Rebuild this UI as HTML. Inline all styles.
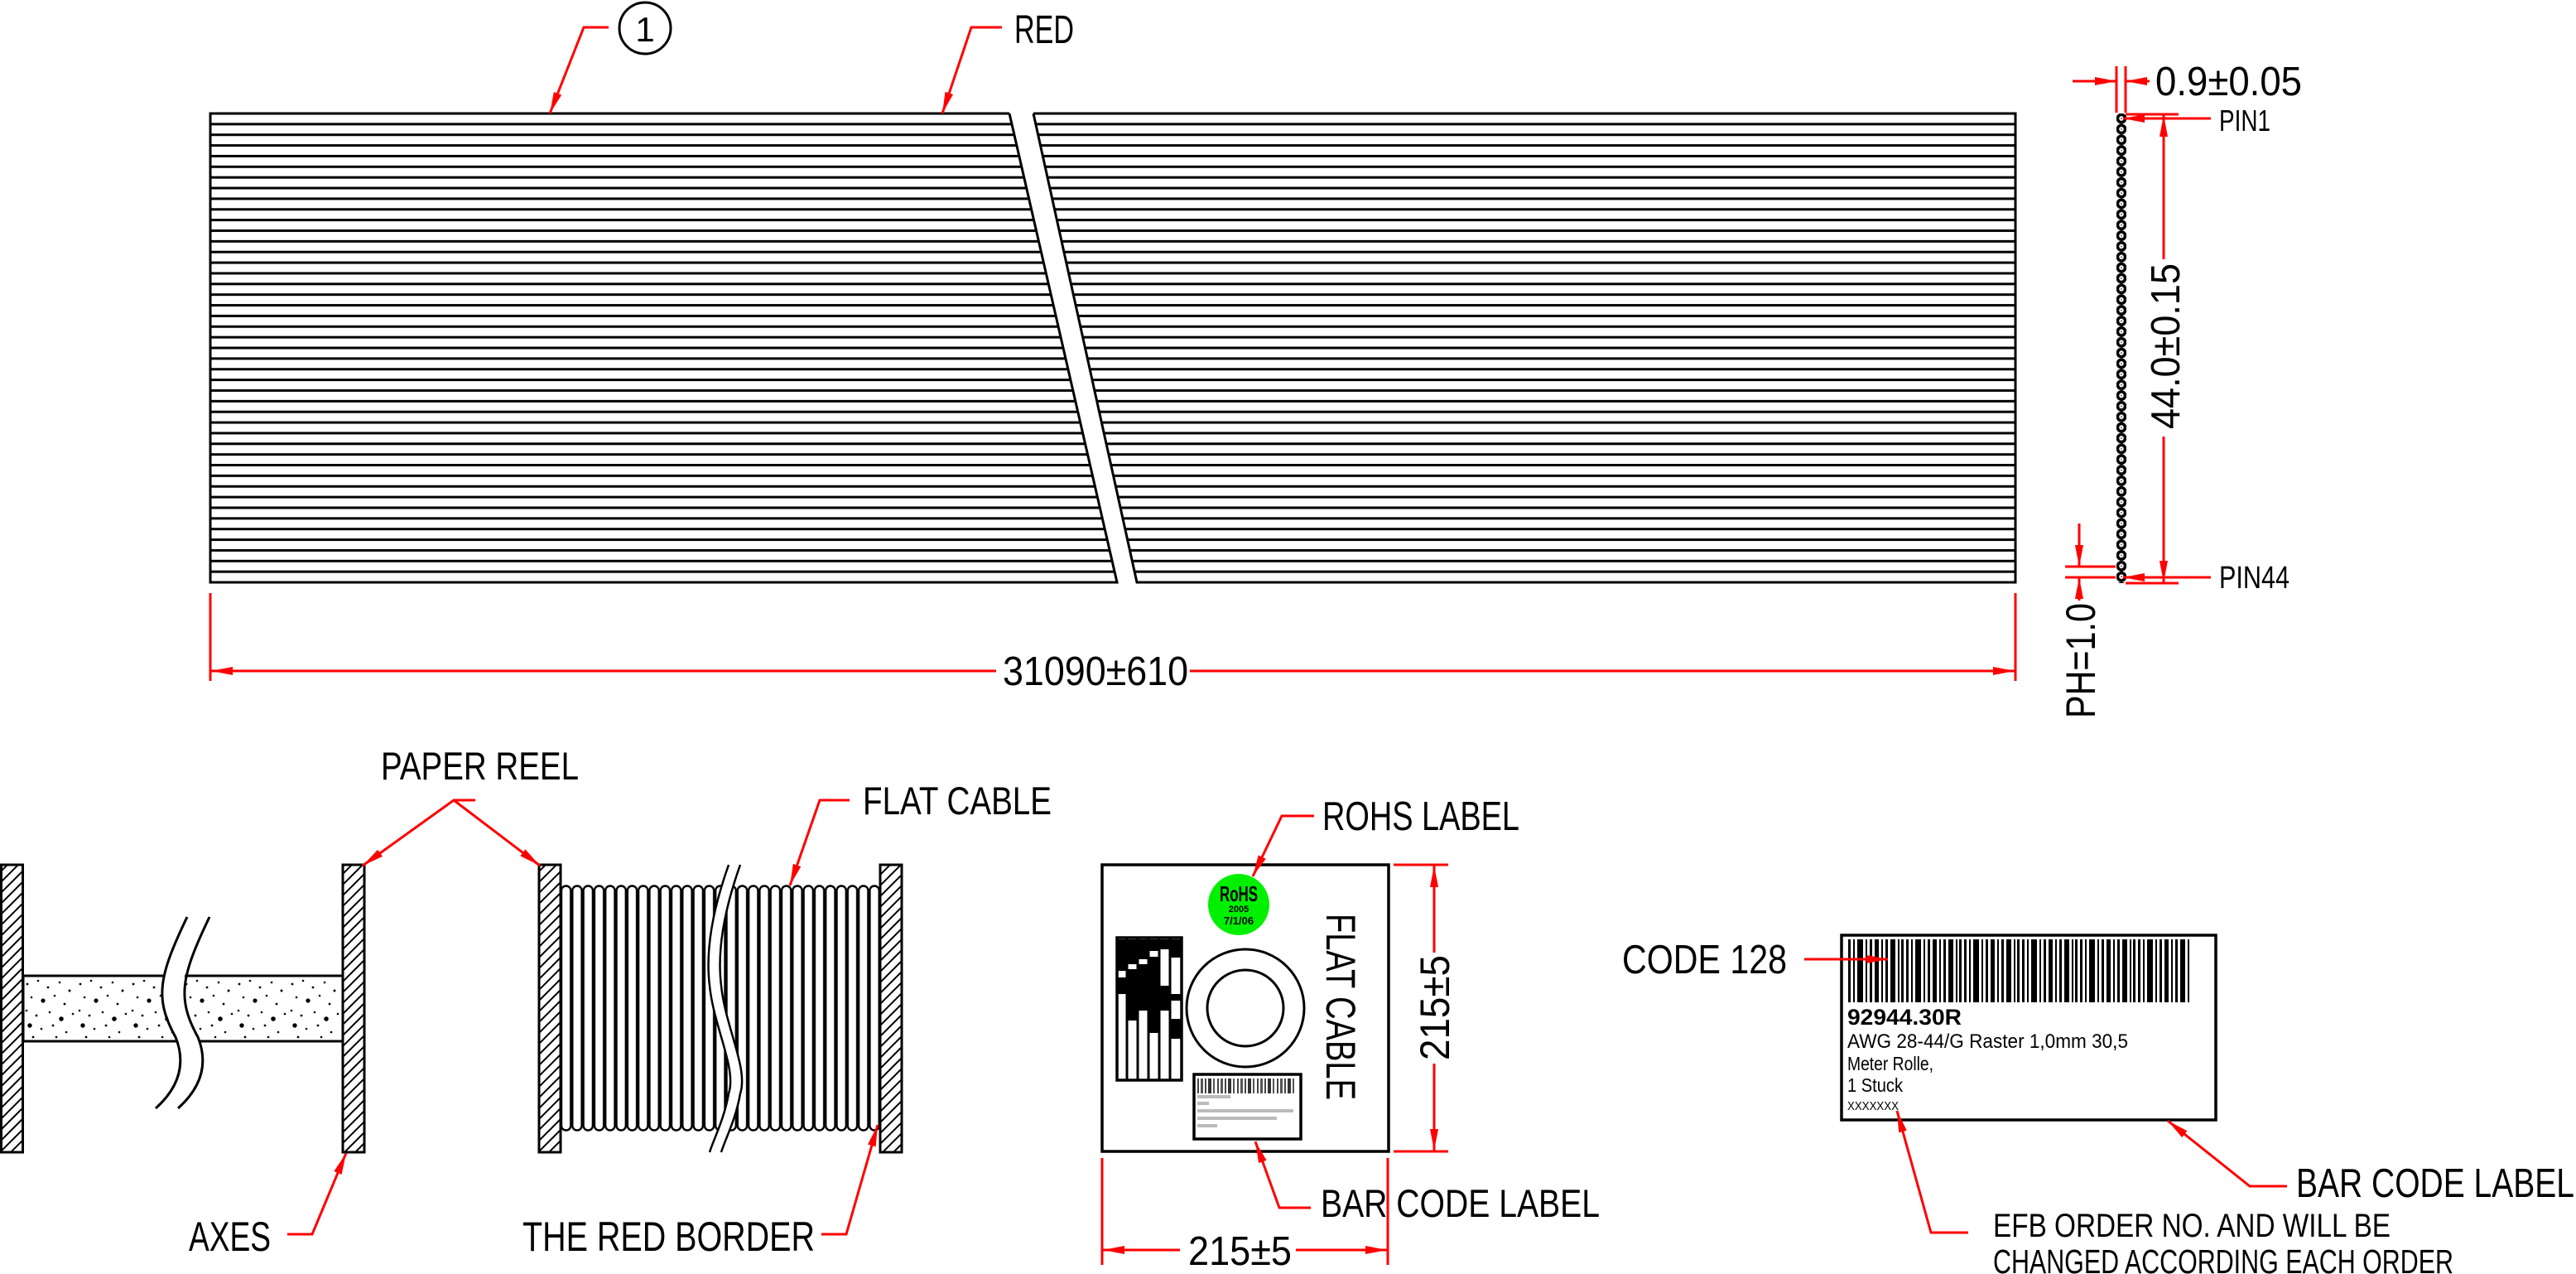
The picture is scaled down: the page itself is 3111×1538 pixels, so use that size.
<!DOCTYPE html>
<html><head><meta charset="utf-8"><style>
html,body{margin:0;padding:0;background:#fff;}
svg{display:block;}
text{font-family:"Liberation Sans",sans-serif;fill:#000;}
</style></head><body>
<svg width="3111" height="1538" viewBox="0 0 3111 1538" xmlns="http://www.w3.org/2000/svg">
<defs>
<marker id="ar" markerUnits="userSpaceOnUse" markerWidth="30" markerHeight="14" refX="26" refY="7" orient="auto">
<path d="M0,2 L26,7 L0,12 Z" fill="#f00"/></marker>
<pattern id="hl" patternUnits="userSpaceOnUse" x="0" y="135.5" width="40" height="12.864">
<rect x="0" y="0" width="40" height="3" fill="#000"/></pattern>
<pattern id="pins" patternUnits="userSpaceOnUse" x="2556" y="136.6" width="12" height="12.864">
<circle cx="6" cy="6.43" r="4.6" fill="#fff" stroke="#000" stroke-width="3.6"/>
<circle cx="6" cy="6.43" r="1" fill="#666"/></pattern>
<pattern id="wind" patternUnits="userSpaceOnUse" x="677" y="1068" width="13.3" height="298">
<rect x="1" y="1.5" width="11.3" height="295" rx="5.5" fill="#fff" stroke="#000" stroke-width="2.4"/></pattern>
<pattern id="hatch" patternUnits="userSpaceOnUse" width="13" height="13">
<path d="M0,13 L13,0 M-4,4 L4,-4 M9,17 L17,9" stroke="#000" stroke-width="2"/></pattern>
<pattern id="dots" patternUnits="userSpaceOnUse" x="28" y="1178" width="64" height="79">
<circle cx="5" cy="10" r="1.4"/><circle cx="18" cy="6" r="1.3"/><circle cx="30" cy="14" r="1.4"/><circle cx="44" cy="8" r="1.3"/><circle cx="56" cy="18" r="1.5"/>
<circle cx="10" cy="26" r="1.3"/><circle cx="24" cy="30" r="2.6"/><circle cx="38" cy="24" r="1.3"/><circle cx="50" cy="34" r="1.4"/>
<circle cx="4" cy="42" r="1.3"/><circle cx="16" cy="48" r="1.4"/><circle cx="32" cy="44" r="1.3"/><circle cx="46" cy="52" r="2.8"/><circle cx="60" cy="46" r="1.3"/>
<circle cx="8" cy="60" r="2.7"/><circle cx="22" cy="64" r="1.3"/><circle cx="36" cy="60" r="1.4"/><circle cx="52" cy="68" r="1.3"/><circle cx="12" cy="74" r="1.4"/><circle cx="40" cy="74" r="1.3"/></pattern>
<pattern id="bc" patternUnits="userSpaceOnUse" x="2232" y="1134" width="70" height="80">
<rect x="0" width="3" height="80"/><rect x="6" width="2" height="80"/><rect x="11" width="7" height="80"/><rect x="21" width="2" height="80"/><rect x="26" width="3" height="80"/><rect x="32" width="5" height="80"/><rect x="40" width="2" height="80"/><rect x="45" width="3" height="80"/><rect x="51" width="6" height="80"/><rect x="60" width="2" height="80"/><rect x="64" width="3" height="80"/></pattern>
<pattern id="bc2" patternUnits="userSpaceOnUse" x="1446" y="1302" width="24" height="20">
<rect x="0" width="2" height="20" fill="#444"/><rect x="4" width="3" height="20" fill="#555"/><rect x="9" width="2" height="20" fill="#444"/><rect x="13" width="4" height="20" fill="#333"/><rect x="19" width="2" height="20" fill="#555"/></pattern>
</defs>

<polygon points="254,137 1219,137 1349,703 254,703" fill="url(#hl)"/>
<polygon points="1248,137 2434,137 2434,703 1373,703" fill="url(#hl)"/>
<g stroke="#000" stroke-width="3" fill="none">
<polyline points="1219,137 254,137 254,703 1349,703 1219,137"/>
<polyline points="1248,137 2434,137 2434,703 1373,703 1248,137"/>
</g>
<g stroke="#f00" stroke-width="3" fill="none">
<polyline points="735,33 705,33 664,137" marker-end="url(#ar)"/>
<polyline points="1210,33 1173,33 1138,137" marker-end="url(#ar)"/>
<line x1="254" y1="716" x2="254" y2="822"/><line x1="2434" y1="716" x2="2434" y2="822"/>
<line x1="1203" y1="810" x2="255" y2="810" marker-end="url(#ar)"/>
<line x1="1437" y1="810" x2="2433" y2="810" marker-end="url(#ar)"/>
</g>
<circle cx="779" cy="34" r="31" fill="none" stroke="#000" stroke-width="3"/>
<text x="779" y="50" font-size="42" text-anchor="middle">1</text>
<text x="1225" y="52" font-size="48" textLength="72" lengthAdjust="spacingAndGlyphs">RED</text>
<text x="1211" y="827" font-size="49" textLength="224" lengthAdjust="spacingAndGlyphs">31090±610</text>

<rect x="2556" y="137" width="12" height="567" fill="url(#pins)"/>
<g stroke="#f00" stroke-width="3" fill="none">
<line x1="2556" y1="80" x2="2556" y2="136"/><line x1="2567" y1="80" x2="2567" y2="136"/>
<line x1="2503" y1="98" x2="2556" y2="98" marker-end="url(#ar)"/>
<line x1="2596" y1="98" x2="2567" y2="98" marker-end="url(#ar)"/>
<line x1="2670" y1="143" x2="2564" y2="143" marker-end="url(#ar)"/>
<line x1="2567" y1="138" x2="2631" y2="138"/><line x1="2567" y1="704" x2="2631" y2="704"/>
<line x1="2613" y1="313" x2="2613" y2="139" marker-end="url(#ar)"/>
<line x1="2613" y1="527" x2="2613" y2="703" marker-end="url(#ar)"/>
<line x1="2670" y1="697" x2="2564" y2="697" marker-end="url(#ar)"/>
<line x1="2494" y1="684" x2="2555" y2="684"/><line x1="2494" y1="697" x2="2555" y2="697"/>
<line x1="2511" y1="632" x2="2511" y2="684" marker-end="url(#ar)"/>
<line x1="2511" y1="725" x2="2511" y2="697" marker-end="url(#ar)"/>
</g>
<text x="2603" y="115" font-size="49" textLength="177" lengthAdjust="spacingAndGlyphs">0.9±0.05</text>
<text x="2680" y="158" font-size="36" textLength="62" lengthAdjust="spacingAndGlyphs">PIN1</text>
<text x="2680" y="710" font-size="38" textLength="85" lengthAdjust="spacingAndGlyphs">PIN44</text>
<text transform="translate(2632,518) rotate(-90)" font-size="49" textLength="200" lengthAdjust="spacingAndGlyphs">44.0±0.15</text>
<text transform="translate(2530,867) rotate(-90)" font-size="50" textLength="139" lengthAdjust="spacingAndGlyphs">PH=1.0</text>

<g stroke="#000" stroke-width="3">
<rect x="1.5" y="1044" width="26" height="347" fill="url(#hatch)"/>
<rect x="414" y="1044" width="26" height="347" fill="url(#hatch)"/>
<rect x="28" y="1178" width="386" height="79" fill="url(#dots)"/>
<rect x="651" y="1044" width="26" height="347" fill="url(#hatch)"/>
<rect x="1063" y="1044" width="26" height="347" fill="url(#hatch)"/>
</g>
<rect x="677" y="1068" width="386" height="298" fill="url(#wind)"/>
<path d="M239,1103 C205,1175 200,1200 225,1250 C240,1290 220,1320 202,1342" stroke="#fff" stroke-width="24" fill="none"/>
<path d="M226,1107 C192,1178 186,1205 212,1252 C228,1292 208,1320 188,1338" stroke="#000" stroke-width="3" fill="none"/>
<path d="M253,1107 C219,1178 213,1205 239,1252 C255,1292 235,1320 215,1338" stroke="#000" stroke-width="3" fill="none"/>
<path d="M887,1044 C867,1100 859,1150 864,1190 C869,1240 897,1290 887,1320 C882,1350 869,1375 864,1391" stroke="#fff" stroke-width="12" fill="none"/>
<path d="M880,1044 C860,1100 852,1150 857,1190 C862,1240 890,1290 880,1320 C875,1350 862,1375 857,1391" stroke="#000" stroke-width="2.5" fill="none"/>
<path d="M894,1044 C874,1100 866,1150 871,1190 C876,1240 904,1290 894,1320 C889,1350 876,1375 871,1391" stroke="#000" stroke-width="2.5" fill="none"/>
<g stroke="#f00" stroke-width="3" fill="none">
<polyline points="574,966 548,966 438,1045" marker-end="url(#ar)"/>
<line x1="548" y1="966" x2="652" y2="1045" marker-end="url(#ar)"/>
<polyline points="1026,966 990,966 954,1069" marker-end="url(#ar)"/>
<polyline points="347,1490 377,1490 418,1392" marker-end="url(#ar)"/>
<polyline points="992,1490 1022,1490 1060,1358" marker-end="url(#ar)"/>
</g>
<text x="460" y="941" font-size="47" textLength="239" lengthAdjust="spacingAndGlyphs">PAPER REEL</text>
<text x="1042" y="983" font-size="47" textLength="228" lengthAdjust="spacingAndGlyphs">FLAT CABLE</text>
<text x="228" y="1510" font-size="50" textLength="99" lengthAdjust="spacingAndGlyphs">AXES</text>
<text x="631" y="1510" font-size="50" textLength="353" lengthAdjust="spacingAndGlyphs">THE RED BORDER</text>

<rect x="1331" y="1044" width="346" height="346" fill="#fff" stroke="#000" stroke-width="3.5"/>
<circle cx="1496" cy="1092" r="37" fill="#00f000"/>
<text x="1496" y="1088" font-family="Liberation Serif,serif" font-weight="bold" font-size="26" text-anchor="middle" textLength="46" lengthAdjust="spacingAndGlyphs">RoHS</text>
<text x="1496" y="1101" font-size="11" font-weight="bold" text-anchor="middle">2005</text>
<text x="1496" y="1116" font-size="13" font-weight="bold" text-anchor="middle">7/1/06</text>
<circle cx="1504" cy="1217" r="71" fill="none" stroke="#000" stroke-width="3"/>
<circle cx="1504" cy="1217" r="46" fill="none" stroke="#000" stroke-width="3"/>
<g>
<rect x="1349" y="1132" width="78" height="172" fill="#fff" stroke="#000" stroke-width="3.5"/>
<g stroke="#000" stroke-width="3"><line x1="1361" y1="1132" x2="1361" y2="1304"/><line x1="1374" y1="1132" x2="1374" y2="1304"/><line x1="1387" y1="1132" x2="1387" y2="1304"/><line x1="1400" y1="1132" x2="1400" y2="1304"/><line x1="1413" y1="1132" x2="1413" y2="1304"/></g>
<rect x="1350" y="1134" width="10" height="38"/><rect x="1350" y="1180" width="10" height="20"/>
<rect x="1362" y="1134" width="11" height="30"/><rect x="1362" y="1170" width="11" height="62"/>
<rect x="1375" y="1134" width="11" height="24"/><rect x="1375" y="1164" width="11" height="56"/>
<rect x="1388" y="1134" width="11" height="14"/><rect x="1388" y="1155" width="11" height="92"/>
<rect x="1401" y="1134" width="11" height="12"/><rect x="1401" y="1190" width="11" height="30"/>
<rect x="1414" y="1134" width="12" height="22"/><rect x="1414" y="1200" width="12" height="8"/><rect x="1414" y="1230" width="12" height="24"/>
</g>
<rect x="1442" y="1297" width="129" height="78" fill="#fff" stroke="#000" stroke-width="3.5"/>
<rect x="1446" y="1302" width="118" height="18" fill="url(#bc2)"/>
<g fill="#bbb"><rect x="1446" y="1322" width="40" height="4"/><rect x="1446" y="1330" width="14" height="4"/><rect x="1446" y="1339" width="116" height="4"/><rect x="1446" y="1348" width="96" height="4"/><rect x="1446" y="1357" width="24" height="4"/></g>
<text transform="translate(1602,1103) rotate(90)" font-size="50" textLength="225" lengthAdjust="spacingAndGlyphs">FLAT CABLE</text>
<g stroke="#f00" stroke-width="3" fill="none">
<line x1="1683" y1="1044" x2="1749" y2="1044"/><line x1="1683" y1="1390" x2="1749" y2="1390"/>
<line x1="1732" y1="1150" x2="1732" y2="1045" marker-end="url(#ar)"/>
<line x1="1732" y1="1284" x2="1732" y2="1389" marker-end="url(#ar)"/>
<line x1="1331" y1="1398" x2="1331" y2="1527"/><line x1="1676" y1="1398" x2="1676" y2="1527"/>
<line x1="1425" y1="1509" x2="1332" y2="1509" marker-end="url(#ar)"/>
<line x1="1565" y1="1509" x2="1675" y2="1509" marker-end="url(#ar)"/>
<polyline points="1587,985 1548,985 1513,1058" marker-end="url(#ar)"/>
<polyline points="1583,1458 1545,1458 1516,1378" marker-end="url(#ar)"/>
</g>
<text transform="translate(1750,1280) rotate(-90)" font-size="50" textLength="127" lengthAdjust="spacingAndGlyphs">215±5</text>
<text x="1435" y="1527" font-size="49" textLength="125" lengthAdjust="spacingAndGlyphs">215±5</text>
<text x="1597" y="1002" font-size="49" textLength="238" lengthAdjust="spacingAndGlyphs">ROHS LABEL</text>
<text x="1595" y="1469" font-size="47" textLength="337" lengthAdjust="spacingAndGlyphs">BAR CODE LABEL</text>

<rect x="2224" y="1129" width="452" height="223" fill="#fff" stroke="#000" stroke-width="3.5"/>
<rect x="2232" y="1134" width="413" height="76" fill="url(#bc)"/>
<g fill="#111">
<text x="2231" y="1237" font-size="27" font-weight="bold" textLength="138" lengthAdjust="spacingAndGlyphs">92944.30R</text>
<text x="2231" y="1265" font-size="24" textLength="339" lengthAdjust="spacingAndGlyphs">AWG 28-44/G Raster 1,0mm 30,5</text>
<text x="2231" y="1292" font-size="23" textLength="104" lengthAdjust="spacingAndGlyphs">Meter Rolle,</text>
<text x="2231" y="1318" font-size="23" textLength="67" lengthAdjust="spacingAndGlyphs">1 Stuck</text>
<text x="2231" y="1340" font-size="15" textLength="62" lengthAdjust="spacingAndGlyphs">XXXXXXX</text>
</g>
<g stroke="#f00" stroke-width="3" fill="none">
<line x1="2179" y1="1158" x2="2280" y2="1158" marker-end="url(#ar)"/>
<polyline points="2762,1432 2717,1432 2618,1353" marker-end="url(#ar)"/>
<polyline points="2377,1488 2332,1488 2291,1341" marker-end="url(#ar)"/>
</g>
<text x="1959" y="1175" font-size="49" textLength="199" lengthAdjust="spacingAndGlyphs">CODE 128</text>
<text x="2773" y="1445" font-size="49" textLength="336" lengthAdjust="spacingAndGlyphs">BAR CODE LABEL</text>
<text x="2407" y="1493" font-size="40" textLength="480" lengthAdjust="spacingAndGlyphs">EFB ORDER NO. AND WILL BE</text>
<text x="2407" y="1537" font-size="41" textLength="556" lengthAdjust="spacingAndGlyphs">CHANGED ACCORDING EACH ORDER</text>
</svg>
</body></html>
